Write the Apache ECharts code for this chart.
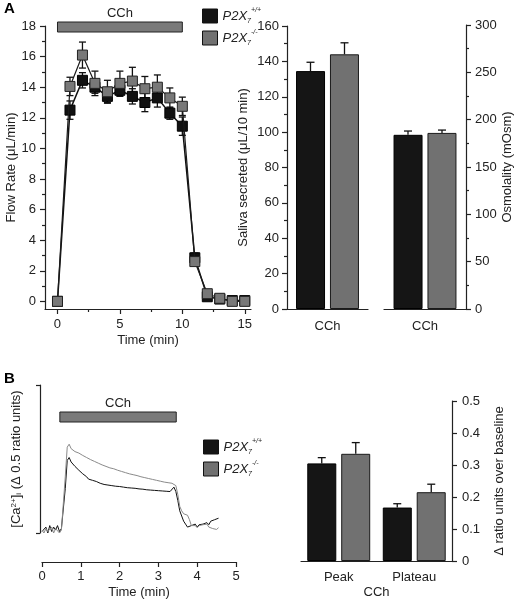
<!DOCTYPE html>
<html><head><meta charset="utf-8">
<script src="https://cdn.jsdelivr.net/npm/echarts@6/dist/echarts.min.js"></script>
<style>html,body{margin:0;padding:0;background:#fff}#c{width:520px;height:600px}</style>
</head><body><div id="c"></div>
<script>
const FONT = "'Liberation Sans', Arial, sans-serif";
// ---- Panel A: flow rate ----
const timeA = [0,1,2,3,4,5,6,7,8,9,10,11,12,13,14,15];
const flowWT    = [0, 12.5, 14.45, 14.0, 13.4, 13.8, 13.4, 13.0, 13.3, 12.3, 11.45, 2.85, 0.3, 0.15, 0.05, 0.05];
const flowWTerr = [0, 0.6, 0.5, 0.4, 0.4, 0.4, 0.5, 0.6, 0.6, 0.4, 0.6, 0.3, 0.2, 0, 0, 0];
const flowKO    = [0, 14.05, 16.1, 14.25, 13.7, 14.25, 14.4, 13.9, 14.0, 13.3, 12.75, 2.6, 0.5, 0.2, 0, 0];
const flowKOerr = [0, 0.6, 0.85, 0.8, 0.75, 0.8, 0.9, 0.8, 0.8, 0.65, 0.6, 0.2, 0.15, 0, 0, 0];
const flowXTicks = [0, 5, 10, 15];
const flowXMinor = [2.5, 7.5, 12.5];
const flowYTicks = [0, 2, 4, 6, 8, 10, 12, 14, 16, 18];
const flowYMinor = [1, 3, 5, 7, 9, 11, 13, 15, 17];
const cchA = [0, 10];
// ---- Panel A: saliva & osmolality ----
const barCatA = ['CCh'];
const salivaWT = [134.5], salivaWTerr = [5];
const salivaKO = [144], salivaKOerr = [6.5];
const osmWT = [184], osmWTerr = [4];
const osmKO = [186], osmKOerr = [3];
// ---- Panel B: calcium traces ----
const traceTime = [0,0.05,0.1,0.15,0.2,0.25,0.3,0.35,0.4,0.45,0.5,0.55,0.6,0.65,0.7,0.75,0.8,0.85,0.9,0.95,1,1.05,1.1,1.15,1.2,1.25,1.3,1.35,1.4,1.45,1.5,1.55,1.6,1.65,1.7,1.75,1.8,1.85,1.9,1.95,2,2.05,2.1,2.15,2.2,2.25,2.3,2.35,2.4,2.45,2.5,2.55,2.6,2.65,2.7,2.75,2.8,2.85,2.9,2.95,3,3.05,3.1,3.15,3.2,3.25,3.3,3.35,3.4,3.45,3.5,3.55,3.6,3.65,3.7,3.75,3.8,3.85,3.9,3.95,4,4.05,4.1,4.15,4.2,4.25,4.3,4.35,4.4,4.45,4.5,4.55];
const traceWT = [0.005,0.01,0.02,0.0,0.025,0.005,0.02,0.01,0.025,0.005,0.015,0.01,0.15,0.245,0.255,0.24,0.235,0.225,0.228,0.212,0.215,0.2,0.205,0.19,0.182,0.188,0.178,0.18,0.174,0.176,0.168,0.17,0.164,0.167,0.162,0.165,0.16,0.163,0.158,0.16,0.157,0.159,0.155,0.158,0.153,0.156,0.152,0.154,0.151,0.153,0.149,0.151,0.148,0.15,0.146,0.148,0.145,0.147,0.144,0.146,0.143,0.145,0.142,0.144,0.141,0.143,0.14,0.142,0.155,0.14,0.11,0.075,0.07,0.04,0.03,0.02,0.015,0.025,0.02,0.03,0.02,0.028,0.022,0.03,0.025,0.035,0.028,0.04,0.035,0.045,0.04,0.05];
const traceKO = [0.01,0.0,0.015,0.005,0.01,0.02,0.0,0.015,0.01,0.0,0.01,0.005,0.19,0.29,0.3,0.285,0.28,0.275,0.277,0.27,0.272,0.262,0.265,0.255,0.258,0.248,0.25,0.242,0.245,0.236,0.238,0.23,0.233,0.225,0.228,0.22,0.223,0.217,0.22,0.212,0.215,0.208,0.21,0.204,0.206,0.2,0.203,0.197,0.199,0.194,0.196,0.19,0.193,0.187,0.189,0.184,0.186,0.181,0.183,0.178,0.18,0.175,0.177,0.172,0.174,0.17,0.172,0.168,0.17,0.16,0.13,0.09,0.075,0.065,0.07,0.06,0.045,0.025,0.02,0.025,0.018,0.025,0.02,0.028,0.022,0.03,0.02,0.025,0.015,0.02,0.012,0.018];
const cchB = [0.46, 3.46];
// ---- Panel B: peak / plateau ----
const barCatB = ['Peak', 'Plateau'];
const ratioWT = [0.305, 0.167], ratioWTerr = [0.018, 0.012];
const ratioKO = [0.335, 0.215], ratioKOerr = [0.035, 0.025];

const INK = '#222';
const C_WT = '#151515', C_KO = '#717171';
const BAR_W = 29, BAR_GAP = '17%', OFF = 17;

function txt(sz) { return { fontFamily: FONT, fontSize: sz, color: INK }; }
function errLine(color, w) {
  return function (params, api) {
    const x = api.value(0), lo = api.value(1), hi = api.value(2);
    if (!(hi > lo)) return null;
    const a = api.coord([x, hi]), b = api.coord([x, lo]);
    const st = { stroke: color, lineWidth: 1.3 };
    return { type: 'group', children: [
      { type: 'line', shape: { x1: a[0], y1: a[1], x2: b[0], y2: b[1] }, style: st },
      { type: 'line', shape: { x1: a[0] - w, y1: a[1], x2: a[0] + w, y2: a[1] }, style: st },
      { type: 'line', shape: { x1: b[0] - w, y1: b[1], x2: b[0] + w, y2: b[1] }, style: st }
    ]};
  };
}
function barErr(offset) {
  return function (params, api) {
    const c = api.value(0), v = api.value(1), e = api.value(2);
    const a = api.coord([c, v]), b = api.coord([c, v + e]);
    const x = a[0] + offset;
    const st = { stroke: '#111', lineWidth: 1.3 };
    return { type: 'group', children: [
      { type: 'line', shape: { x1: x, y1: a[1], x2: x, y2: b[1] }, style: st },
      { type: 'line', shape: { x1: x - 4, y1: b[1], x2: x + 4, y2: b[1] }, style: st }
    ]};
  };
}
function cchBar(params, api) {
  const s = api.coord([api.value(0), 1]), e = api.coord([api.value(1), 0]);
  return { type: 'group', children: [
    { type: 'rect', shape: { x: s[0], y: s[1], width: e[0] - s[0], height: e[1] - s[1] },
      style: { fill: '#7a7a7a', stroke: INK, lineWidth: 1 } },
    { type: 'text', style: { text: 'CCh', x: (s[0] + e[0]) / 2, y: s[1] - 2, align: 'center',
      verticalAlign: 'bottom', fontSize: 13, fontFamily: FONT, fill: INK } }
  ]};
}
const axisLine = { show: true, onZero: false, lineStyle: { color: INK, width: 1.2 } };
const tick = (len) => ({ show: true, length: len, lineStyle: { color: INK, width: 1.2 } });
const legendRich = {
  a: { fontFamily: FONT, fontSize: 13, fontStyle: 'italic', color: INK, lineHeight: 18 },
  b: { fontFamily: FONT, fontSize: 7, fontStyle: 'italic', color: INK, verticalAlign: 'bottom' },
  c: { fontFamily: FONT, fontSize: 7, fontStyle: 'italic', color: INK, verticalAlign: 'top' }
};
const legendFmt = (n) => n === 'wt' ? '{a|P2X}{b|7}{c|+/+}' : '{a|P2X}{b|7}{c|-/-}';
const legendBase = { orient: 'vertical', icon: 'rect', itemWidth: 15, itemHeight: 14, itemGap: 4,
  selectedMode: false, data: ['wt', 'ko'], formatter: legendFmt,
  itemStyle: { borderColor: '#111', borderWidth: 1 }, textStyle: { rich: legendRich } };

const option = {
  animation: false,
  backgroundColor: '#fff',
  textStyle: { fontFamily: FONT },
  graphic: [
    { type: 'text', left: 4, top: 1, style: { text: 'A', fontSize: 15, fontWeight: 'bold', fontFamily: FONT, fill: '#000' } },
    { type: 'text', left: 4, top: 371, style: { text: 'B', fontSize: 15, fontWeight: 'bold', fontFamily: FONT, fill: '#000' } }
  ],
  legend: [
    Object.assign({ left: 197, top: 2 }, legendBase),
    Object.assign({ left: 198, top: 433 }, legendBase)
  ],
  grid: [
    { left: 45, top: 26, width: 206, height: 283 },
    { left: 287, top: 26, width: 81, height: 283 },
    { left: 384, top: 25, width: 82, height: 284 },
    { left: 42, top: 385, width: 194, height: 148 },
    { left: 301, top: 401, width: 151, height: 161 },
    { left: 45, top: 22, width: 206, height: 10 },
    { left: 42, top: 412, width: 194, height: 10 }
  ],
  xAxis: [
    { gridIndex: 0, type: 'value', min: -1, max: 15.5, position: 'bottom', axisLine,
      axisTick: Object.assign(tick(5), { customValues: flowXTicks }),
      axisLabel: Object.assign(txt(13), { customValues: flowXTicks, margin: 9 }),
      splitLine: { show: false },
      name: 'Time (min)', nameLocation: 'middle', nameGap: 25, nameTextStyle: txt(13) },
    { gridIndex: 0, type: 'value', min: -1, max: 15.5, position: 'bottom',
      axisLine: { show: false, onZero: false },
      axisTick: Object.assign(tick(3), { customValues: flowXMinor }),
      axisLabel: { show: false }, splitLine: { show: false } },
    { gridIndex: 1, type: 'category', data: barCatA, axisLine, axisTick: { show: false },
      axisLabel: Object.assign(txt(13), { margin: 11 }) },
    { gridIndex: 2, type: 'category', data: barCatA, axisLine, axisTick: { show: false },
      axisLabel: Object.assign(txt(13), { margin: 11 }) },
    { gridIndex: 3, type: 'value', min: 0, max: 5, interval: 1, offset: 29, position: 'bottom', axisLine,
      axisTick: tick(5), axisLabel: Object.assign(txt(13), { margin: 8 }), splitLine: { show: false },
      name: 'Time (min)', nameLocation: 'middle', nameGap: 24, nameTextStyle: txt(13) },
    { gridIndex: 4, type: 'category', data: barCatB, axisLine, axisTick: { show: false },
      axisLabel: Object.assign(txt(13), { margin: 10 }),
      name: 'CCh', nameLocation: 'middle', nameGap: 25, nameTextStyle: txt(13) },
    { gridIndex: 5, type: 'value', min: -1, max: 15.5, show: false },
    { gridIndex: 6, type: 'value', min: 0, max: 5, show: false }
  ],
  yAxis: [
    { gridIndex: 0, type: 'value', min: -0.5, max: 18, position: 'left', axisLine,
      axisTick: Object.assign(tick(5), { customValues: flowYTicks }),
      axisLabel: Object.assign(txt(13), { customValues: flowYTicks, margin: 9 }),
      splitLine: { show: false },
      name: 'Flow Rate (μL/min)', nameLocation: 'middle', nameGap: 27, nameTextStyle: txt(13) },
    { gridIndex: 0, type: 'value', min: -0.5, max: 18, position: 'left',
      axisLine: { show: false, onZero: false },
      axisTick: Object.assign(tick(3), { customValues: flowYMinor }),
      axisLabel: { show: false }, splitLine: { show: false } },
    { gridIndex: 1, type: 'value', min: 0, max: 160, interval: 20, position: 'left', axisLine,
      axisTick: tick(5), minorTick: { show: true, splitNumber: 2, length: 3, lineStyle: { color: INK, width: 1.2 } },
      axisLabel: Object.assign(txt(13), { margin: 8 }), splitLine: { show: false },
      name: 'Saliva secreted (μL/10 min)', nameLocation: 'middle', nameGap: 37, nameTextStyle: txt(13) },
    { gridIndex: 2, type: 'value', min: 0, max: 300, interval: 50, position: 'right', axisLine,
      axisTick: tick(5), minorTick: { show: true, splitNumber: 2, length: 3, lineStyle: { color: INK, width: 1.2 } },
      axisLabel: Object.assign(txt(13), { margin: 9 }), splitLine: { show: false },
      name: 'Osmolality (mOsm)', nameLocation: 'middle', nameGap: 35, nameTextStyle: txt(13) },
    { gridIndex: 3, type: 'value', min: 0, max: 0.5, interval: 0.5, position: 'left', offset: 2, axisLine,
      axisTick: tick(4), axisLabel: { show: false }, splitLine: { show: false },
      name: '[Ca{sp|2+}]{sb|i} (Δ 0.5 ratio units)', nameLocation: 'middle', nameGap: 17,
      nameTextStyle: Object.assign(txt(13), { rich: {
        sp: { fontFamily: FONT, fontSize: 8, color: INK, verticalAlign: 'top' },
        sb: { fontFamily: FONT, fontSize: 8, color: INK, verticalAlign: 'bottom' } } }) },
    { gridIndex: 4, type: 'value', min: 0, max: 0.5, interval: 0.1, position: 'right', axisLine,
      axisTick: tick(5), axisLabel: Object.assign(txt(13), { margin: 10 }), splitLine: { show: false },
      name: 'Δ ratio units over baseline', nameLocation: 'middle', nameGap: 41, nameTextStyle: txt(13) },
    { gridIndex: 5, type: 'value', min: 0, max: 1, show: false },
    { gridIndex: 6, type: 'value', min: 0, max: 1, show: false }
  ],
  series: [
    // saliva bars
    { name: 'wt', type: 'bar', xAxisIndex: 2, yAxisIndex: 2, data: salivaWT, barWidth: BAR_W, barGap: BAR_GAP,
      itemStyle: { color: C_WT, borderColor: '#000', borderWidth: 1 }, z: 2 },
    { name: 'ko', type: 'bar', xAxisIndex: 2, yAxisIndex: 2, data: salivaKO, barWidth: BAR_W, barGap: BAR_GAP,
      itemStyle: { color: C_KO, borderColor: '#1a1a1a', borderWidth: 1 }, z: 2 },
    { type: 'custom', xAxisIndex: 2, yAxisIndex: 2, renderItem: barErr(-OFF), z: 3, encode: { x: 0, y: 1 },
      data: salivaWT.map((v, i) => [i, v, salivaWTerr[i]]) },
    { type: 'custom', xAxisIndex: 2, yAxisIndex: 2, renderItem: barErr(OFF), z: 3, encode: { x: 0, y: 1 },
      data: salivaKO.map((v, i) => [i, v, salivaKOerr[i]]) },
    // osmolality bars
    { name: 'wt', type: 'bar', xAxisIndex: 3, yAxisIndex: 3, data: osmWT, barWidth: BAR_W, barGap: BAR_GAP,
      itemStyle: { color: C_WT, borderColor: '#000', borderWidth: 1 }, z: 2 },
    { name: 'ko', type: 'bar', xAxisIndex: 3, yAxisIndex: 3, data: osmKO, barWidth: BAR_W, barGap: BAR_GAP,
      itemStyle: { color: C_KO, borderColor: '#1a1a1a', borderWidth: 1 }, z: 2 },
    { type: 'custom', xAxisIndex: 3, yAxisIndex: 3, renderItem: barErr(-OFF), z: 3, encode: { x: 0, y: 1 },
      data: osmWT.map((v, i) => [i, v, osmWTerr[i]]) },
    { type: 'custom', xAxisIndex: 3, yAxisIndex: 3, renderItem: barErr(OFF), z: 3, encode: { x: 0, y: 1 },
      data: osmKO.map((v, i) => [i, v, osmKOerr[i]]) },
    // flow rate error bars
    { type: 'custom', xAxisIndex: 0, yAxisIndex: 0, renderItem: errLine('#111', 3.5), z: 1, encode: { x: 0, y: [1, 2] },
      data: timeA.map((t, i) => [t, flowWT[i] - flowWTerr[i], flowWT[i] + flowWTerr[i]]) },
    { type: 'custom', xAxisIndex: 0, yAxisIndex: 0, renderItem: errLine('#111', 3.5), z: 1, encode: { x: 0, y: [1, 2] },
      data: timeA.map((t, i) => [t, flowKO[i] - flowKOerr[i], flowKO[i] + flowKOerr[i]]) },
    // flow rate lines
    { name: 'wt', type: 'line', xAxisIndex: 0, yAxisIndex: 0, symbol: 'rect', symbolSize: 10, z: 2,
      data: timeA.map((t, i) => [t, flowWT[i]]),
      itemStyle: { color: '#111', borderColor: '#000', borderWidth: 1 }, lineStyle: { color: '#111', width: 1.5 } },
    { name: 'ko', type: 'line', xAxisIndex: 0, yAxisIndex: 0, symbol: 'rect', symbolSize: 10, z: 3,
      data: timeA.map((t, i) => [t, flowKO[i]]),
      itemStyle: { color: '#787878', borderColor: '#222', borderWidth: 1 }, lineStyle: { color: '#1a1a1a', width: 1.2 } },
    // CCh bars
    { type: 'custom', xAxisIndex: 6, yAxisIndex: 6, renderItem: cchBar, clip: false, encode: { x: [0, 1] }, data: [cchA] },
    { type: 'custom', xAxisIndex: 7, yAxisIndex: 7, renderItem: cchBar, clip: false, encode: { x: [0, 1] }, data: [cchB] },
    // traces
    { name: 'wt', type: 'line', xAxisIndex: 4, yAxisIndex: 4, showSymbol: false, symbol: 'none', clip: false,
      data: traceTime.map((t, i) => [t, traceWT[i]]), lineStyle: { color: '#111', width: 1 }, itemStyle: { color: C_WT } },
    { name: 'ko', type: 'line', xAxisIndex: 4, yAxisIndex: 4, showSymbol: false, symbol: 'none', clip: false,
      data: traceTime.map((t, i) => [t, traceKO[i]]), lineStyle: { color: '#8a8a8a', width: 1 }, itemStyle: { color: C_KO } },
    // peak/plateau bars
    { name: 'wt', type: 'bar', xAxisIndex: 5, yAxisIndex: 5, data: ratioWT, barWidth: BAR_W, barGap: BAR_GAP,
      itemStyle: { color: C_WT, borderColor: '#000', borderWidth: 1 }, z: 2 },
    { name: 'ko', type: 'bar', xAxisIndex: 5, yAxisIndex: 5, data: ratioKO, barWidth: BAR_W, barGap: BAR_GAP,
      itemStyle: { color: C_KO, borderColor: '#1a1a1a', borderWidth: 1 }, z: 2 },
    { type: 'custom', xAxisIndex: 5, yAxisIndex: 5, renderItem: barErr(-OFF), z: 3, encode: { x: 0, y: 1 },
      data: ratioWT.map((v, i) => [i, v, ratioWTerr[i]]) },
    { type: 'custom', xAxisIndex: 5, yAxisIndex: 5, renderItem: barErr(OFF), z: 3, encode: { x: 0, y: 1 },
      data: ratioKO.map((v, i) => [i, v, ratioKOerr[i]]) }
  ]
};
const chart = echarts.init(document.getElementById('c'), null, { renderer: 'canvas' });
chart.setOption(option);
</script>
</body></html>
